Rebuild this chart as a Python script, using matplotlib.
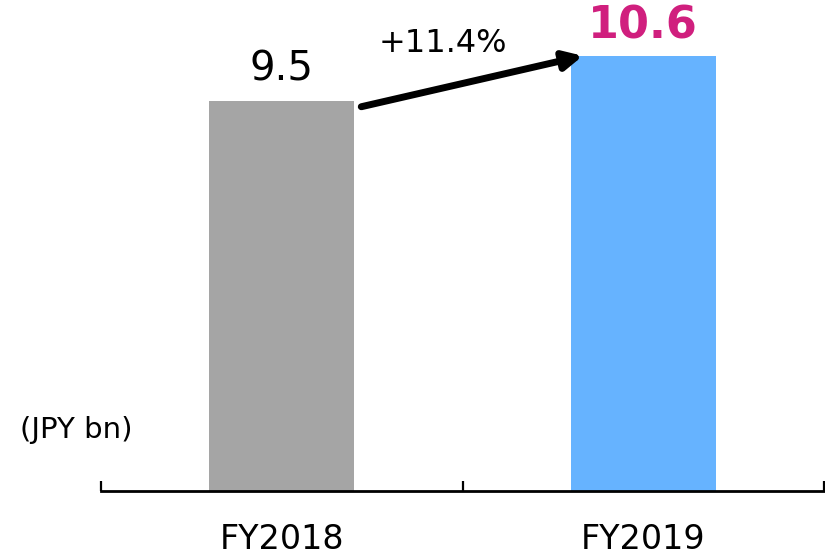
import matplotlib.pyplot as plt

# --- data ---
years = ["FY2018", "FY2019"]
values = [9.5, 10.6]
growth_label = "+11.4%"
unit_label = "(JPY bn)"

bar_colors = ["#A5A5A5", "#66B3FF"]
label_colors = ["#000000", "#D01F7E"]
label_weights = ["normal", "bold"]
label_sizes = [29, 32]
label_offsets = [8, 6]

fig = plt.figure(figsize=(8.25, 5.56), dpi=100)
ax = fig.add_axes([101 / 825, 65 / 556, 723 / 825, 491 / 556])

x = range(len(years))
bars = ax.bar(x, values, width=0.40, color=bar_colors, zorder=2)

ax.set_xlim(-0.5, len(years) - 0.5)
ax.set_ylim(0, 11.96)

# --- axes formatting: only the bottom line with inward ticks at boundaries ---
for side in ["top", "right", "left"]:
    ax.spines[side].set_visible(False)
ax.spines["bottom"].set_linewidth(2)
ax.set_yticks([])
ax.set_xticks(list(x))
ax.set_xticklabels(years, fontsize=24)
ax.tick_params(axis="x", which="major", length=0, pad=23)
ax.set_xticks([i - 0.5 for i in range(len(years) + 1)], minor=True)
ax.tick_params(axis="x", which="minor", direction="in", length=7.5, width=1.6)

# --- value labels ---
for i, v in enumerate(values):
    ax.annotate(f"{v:.1f}", (i, v), xytext=(0, label_offsets[i]), textcoords="offset points",
                ha="center", va="bottom", fontsize=label_sizes[i],
                color=label_colors[i], fontweight=label_weights[i])

# --- growth arrow ---
ax.annotate("", xy=(1 - 0.20 + 0.033, values[1]), xytext=(0.20 + 0.02, values[0] - 0.14),
            arrowprops=dict(arrowstyle="-|>,head_length=1.1,head_width=0.55",
                            color="black", lw=5, shrinkA=0, shrinkB=0))
ax.text(0.445, 10.9, growth_label, ha="center", va="center", fontsize=23)

fig.text(20 / 825, 1 - 430 / 556, unit_label, ha="left", va="center", fontsize=21)

fig.savefig("out.png", dpi=100)
